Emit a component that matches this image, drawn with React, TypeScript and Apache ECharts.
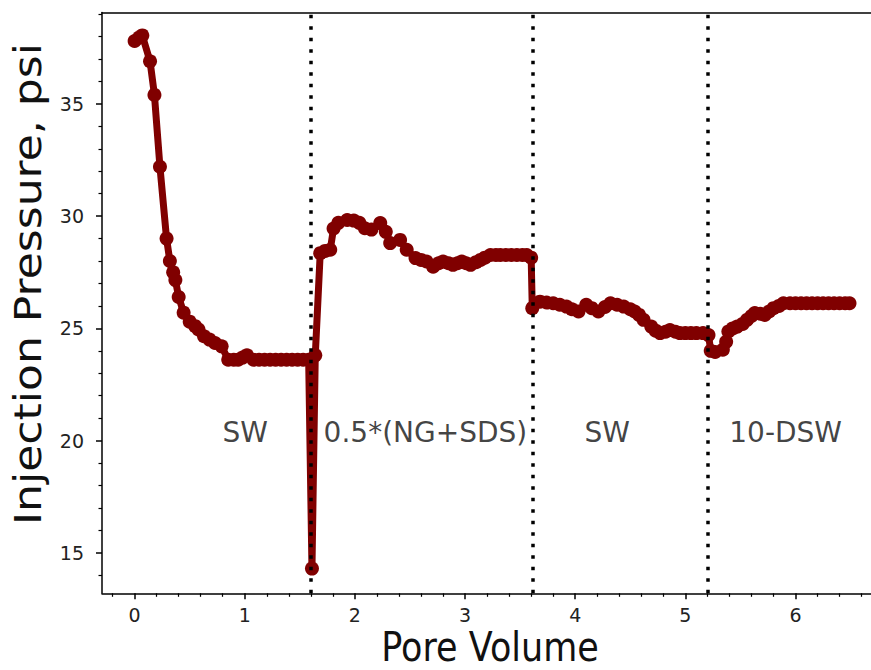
import React, { useEffect, useRef } from "react";
import * as echarts from "echarts";

// ---- Data ----
const PORE_VOLUME = [
  0.0, 0.04, 0.07, 0.14, 0.18, 0.23, 0.29, 0.32, 0.35, 0.37, 0.4, 0.445, 0.5, 0.55, 0.58, 0.63, 0.68, 0.73, 0.79,
  0.85, 0.9, 0.94, 0.98, 1.02, 1.08, 1.13, 1.18, 1.23, 1.28, 1.33, 1.38, 1.43, 1.48, 1.53, 1.58,
  1.61, 1.64, 1.685, 1.73, 1.776, 1.806, 1.85, 1.93, 1.99, 2.04, 2.09, 2.15, 2.23, 2.28, 2.32, 2.41, 2.47, 2.55,
  2.6, 2.65, 2.71, 2.76, 2.8, 2.85, 2.89, 2.93, 2.97, 3.01, 3.05, 3.1, 3.14, 3.18, 3.23, 3.28, 3.32, 3.37, 3.42,
  3.47, 3.52, 3.56, 3.6, 3.61, 3.68, 3.74, 3.8, 3.86, 3.92, 3.97, 4.03, 4.1, 4.15, 4.21, 4.27, 4.32, 4.38, 4.44,
  4.5, 4.54, 4.58, 4.62, 4.69, 4.73, 4.77, 4.82, 4.86, 4.91, 4.95, 5.0, 5.05, 5.1, 5.16, 5.21, 5.23, 5.27, 5.34,
  5.37, 5.39, 5.43, 5.47, 5.52, 5.56, 5.6, 5.63, 5.68, 5.72, 5.76, 5.8, 5.85, 5.89, 5.95, 6.0, 6.05, 6.1, 6.15,
  6.2, 6.25, 6.3, 6.35, 6.4, 6.45, 6.49,
];
const PRESSURE = [
  37.8, 37.95, 38.05, 36.9, 35.4, 32.2, 29.0, 28.0, 27.5, 27.15, 26.4, 25.7, 25.3, 25.1, 24.95, 24.65, 24.5, 24.35, 24.2,
  23.6, 23.6, 23.6, 23.7, 23.8, 23.6, 23.6, 23.6, 23.6, 23.6, 23.6, 23.6, 23.6, 23.6, 23.6, 23.6,
  14.3, 23.8, 28.35, 28.45, 28.5, 29.45, 29.7, 29.83, 29.8, 29.7, 29.46, 29.4, 29.69, 29.3, 28.8, 28.94, 28.5, 28.13,
  28.05, 27.98, 27.75, 27.9, 27.98, 27.9, 27.83, 27.9, 27.98, 27.9, 27.83, 27.95, 28.05, 28.15, 28.27, 28.27, 28.27, 28.27, 28.27,
  28.27, 28.27, 28.27, 28.15, 25.9, 26.19, 26.15, 26.12, 26.05, 25.97, 25.85, 25.75, 26.05, 25.9, 25.75, 25.95, 26.12, 26.05, 25.97,
  25.85, 25.75, 25.6, 25.38, 25.08, 24.9, 24.79, 24.85, 24.93, 24.85, 24.79, 24.79, 24.79, 24.79, 24.79, 24.7, 24.0, 23.95, 24.05,
  24.4, 24.86, 25.0, 25.08, 25.2, 25.38, 25.55, 25.68, 25.65, 25.6, 25.75, 25.9, 26.0, 26.12, 26.12, 26.12, 26.12, 26.12, 26.12,
  26.12, 26.12, 26.12, 26.12, 26.12, 26.12, 26.12,
];

const STAGE_BOUNDARIES = [1.6, 3.61, 5.2];
const STAGE_LABELS = ["SW", "0.5*(NG+SDS)", "SW", "10-DSW"];
const STAGE_LABEL_X = [1.005, 2.64, 4.29, 5.91];
const STAGE_LABEL_Y = [20.35, 20.35, 20.35, 20.35];

const X_TICKS = [0, 1, 2, 3, 4, 5, 6];
const X_MINOR_TICKS = [-0.2, 0.2, 0.4, 0.6, 0.8, 1.2, 1.4, 1.6, 1.8, 2.2, 2.4, 2.6, 2.8, 3.2, 3.4, 3.6, 3.8, 4.2, 4.4, 4.6, 4.8, 5.2, 5.4, 5.6, 5.8, 6.2, 6.4, 6.6];
const Y_TICKS = [15, 20, 25, 30, 35];
const Y_MINOR_TICKS = [14, 16, 17, 18, 19, 21, 22, 23, 24, 26, 27, 28, 29, 31, 32, 33, 34, 36, 37, 38, 39];

const X_MIN = -0.296;
const X_MAX = 6.685;
const Y_MIN = 13.2;
const Y_MAX = 39.07;

const X_TITLE = "Pore Volume";
const Y_TITLE = "Injection Pressure, psi";

const FONT = '"DejaVu Sans", "Noto Sans", sans-serif';
const LINE_COLOR = "#800000";

export default function App() {
  const ref = useRef<HTMLDivElement>(null);

  useEffect(() => {
    if (!ref.current) return;
    const chart = echarts.init(ref.current, null, { renderer: "svg" });
    const points = PORE_VOLUME.map((x, i) => [x, PRESSURE[i]]);
    const labels = STAGE_LABELS.map((name, i) => ({ name, value: [STAGE_LABEL_X[i], STAGE_LABEL_Y[i]] }));

    const axisLineStyle = { color: "#000", width: 1.5 };

    chart.setOption({
      animation: false,
      backgroundColor: "#fff",
      grid: { left: 102, right: 0, top: 12.5, bottom: 76.7, containLabel: false },
      xAxis: [
        {
          type: "value",
          position: "bottom",
          min: X_MIN,
          max: X_MAX,
          axisLine: { show: true, onZero: false, lineStyle: axisLineStyle },
          axisTick: { show: true, customValues: X_TICKS, length: 6, lineStyle: axisLineStyle },
          axisLabel: { customValues: X_TICKS, fontSize: 19, fontFamily: FONT, color: "#222", margin: 12 },
          splitLine: { show: false },
        },
        {
          type: "value",
          position: "bottom",
          min: X_MIN,
          max: X_MAX,
          axisLine: { show: false, onZero: false },
          axisTick: { show: true, customValues: X_MINOR_TICKS, length: 3.5, lineStyle: { color: "#000", width: 1.2 } },
          axisLabel: { show: false, customValues: X_MINOR_TICKS },
          splitLine: { show: false },
        },
        {
          type: "value",
          position: "top",
          min: X_MIN,
          max: X_MAX,
          axisLine: { show: true, onZero: false, lineStyle: axisLineStyle },
          axisTick: { show: false },
          axisLabel: { show: false },
          splitLine: { show: false },
        },
      ],
      yAxis: [
        {
          type: "value",
          position: "left",
          min: Y_MIN,
          max: Y_MAX,
          axisLine: { show: true, onZero: false, lineStyle: axisLineStyle },
          axisTick: { show: true, customValues: Y_TICKS, length: 6, lineStyle: axisLineStyle },
          axisLabel: { customValues: Y_TICKS, fontSize: 19, fontFamily: FONT, color: "#222", margin: 18 },
          splitLine: { show: false },
        },
        {
          type: "value",
          position: "left",
          min: Y_MIN,
          max: Y_MAX,
          axisLine: { show: false, onZero: false },
          axisTick: { show: true, customValues: Y_MINOR_TICKS, length: 3.5, lineStyle: { color: "#000", width: 1.2 } },
          axisLabel: { show: false, customValues: Y_MINOR_TICKS },
          splitLine: { show: false },
        },
      ],
      series: [
        {
          type: "line",
          xAxisIndex: 0,
          yAxisIndex: 0,
          data: points,
          symbol: "circle",
          symbolSize: 14,
          showAllSymbol: true,
          lineStyle: { color: LINE_COLOR, width: 7, join: "round", cap: "round" },
          itemStyle: { color: LINE_COLOR, borderWidth: 0 },
          z: 2,
          silent: true,
        },
        {
          type: "scatter",
          xAxisIndex: 0,
          yAxisIndex: 0,
          data: labels,
          symbolSize: 0,
          z: 5,
          silent: true,
          label: {
            show: true,
            position: "inside",
            formatter: (p: any) => p.name,
            fontSize: 28,
            fontFamily: FONT,
            color: "#111",
            textBorderWidth: 0,
          },
          markLine: {
            silent: true,
            symbol: ["none", "none"],
            label: { show: false },
            lineStyle: { color: "#000", type: [3.5, 8], width: 3.5, cap: "butt" },
            data: STAGE_BOUNDARIES.map((v) => ({ xAxis: v })),
          },
        },
      ],
      graphic: [
        {
          type: "text",
          x: 490,
          y: 647,
          scaleY: 1.15,
          style: {
            text: X_TITLE,
            fontSize: 35,
            fontFamily: FONT,
            fill: "#111",
            align: "center",
            verticalAlign: "middle",
          },
        },
        {
          type: "text",
          x: 28,
          y: 284,
          rotation: Math.PI / 2,
          scaleX: 1.19,
          style: {
            text: Y_TITLE,
            fontSize: 37,
            fontFamily: FONT,
            fill: "#111",
            align: "center",
            verticalAlign: "middle",
          },
        },
      ],
    });

    return () => chart.dispose();
  }, []);

  return (
    <div
      ref={ref}
      style={{ position: "fixed", left: 0, top: 0, width: 871, height: 670, background: "#fff" }}
    />
  );
}
